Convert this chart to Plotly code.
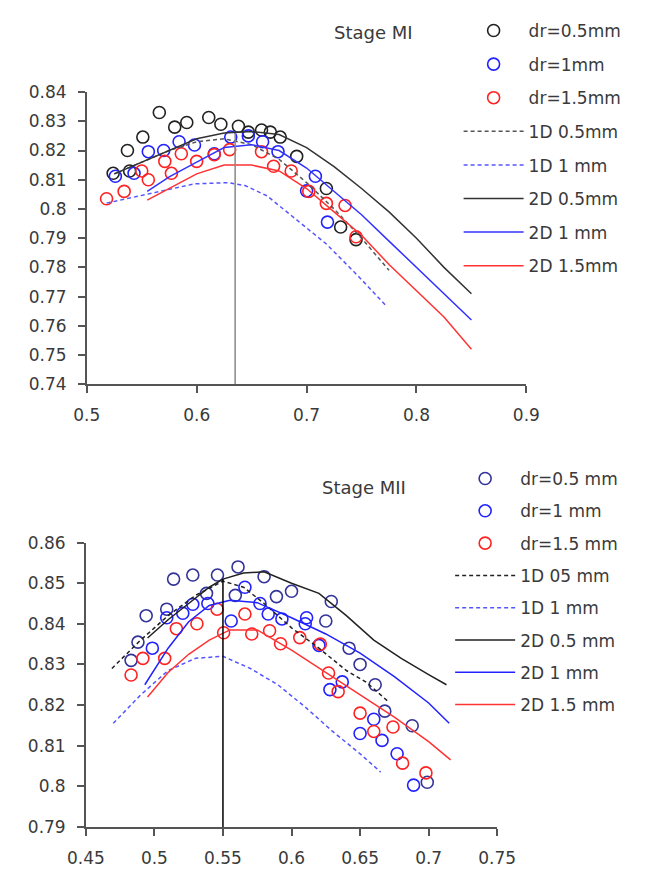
import plotly.graph_objects as go

# ---------------- Top chart (Stage MI) data ----------------
mi_dr05_x = [0.524, 0.539, 0.537, 0.551, 0.566, 0.580, 0.591, 0.611, 0.622, 0.638, 0.647, 0.659,
             0.667, 0.676, 0.691, 0.718, 0.731, 0.745]
mi_dr05_y = [0.8122, 0.813, 0.820, 0.8246, 0.833, 0.828, 0.8296, 0.8313, 0.829, 0.8283, 0.8263, 0.827,
             0.8263, 0.8246, 0.818, 0.807, 0.7938, 0.7895]
mi_dr1_x = [0.526, 0.543, 0.556, 0.570, 0.584, 0.598, 0.616, 0.631, 0.647, 0.660, 0.674, 0.708, 0.700, 0.719]
mi_dr1_y = [0.8112, 0.8122, 0.8196, 0.820, 0.823, 0.8219, 0.8189, 0.8246, 0.825, 0.823, 0.8196, 0.8112, 0.8062, 0.7955]
mi_dr15_x = [0.518, 0.534, 0.550, 0.556, 0.571, 0.577, 0.586, 0.600, 0.616, 0.630, 0.659, 0.670,
             0.686, 0.702, 0.718, 0.735, 0.745]
mi_dr15_y = [0.8035, 0.806, 0.813, 0.810, 0.8163, 0.8122, 0.8189, 0.8163, 0.8186, 0.8203, 0.8196, 0.8146,
             0.813, 0.806, 0.8019, 0.8012, 0.7905]

mi_1d05_x = [0.525, 0.55, 0.575, 0.6, 0.625, 0.65, 0.675, 0.7, 0.725, 0.75, 0.775]
mi_1d05_y = [0.812, 0.816, 0.820, 0.823, 0.824, 0.822, 0.817, 0.809, 0.800, 0.790, 0.779]
mi_1d1_x = [0.518, 0.558, 0.598, 0.629, 0.644, 0.664, 0.689, 0.718, 0.747, 0.772]
mi_1d1_y = [0.802, 0.8052, 0.8086, 0.809, 0.808, 0.8045, 0.797, 0.788, 0.777, 0.767]
mi_2d05_x = [0.525, 0.55, 0.575, 0.6, 0.625, 0.65, 0.675, 0.7, 0.725, 0.75, 0.775, 0.8, 0.825, 0.85]
mi_2d05_y = [0.812, 0.816, 0.820, 0.824, 0.826, 0.8265, 0.8255, 0.821, 0.8145, 0.807, 0.799, 0.790, 0.780, 0.771]
mi_2d1_x = [0.555, 0.575, 0.6, 0.625, 0.65, 0.675, 0.7, 0.725, 0.75, 0.775, 0.8, 0.825, 0.85]
mi_2d1_y = [0.806, 0.811, 0.816, 0.821, 0.822, 0.820, 0.814, 0.806, 0.798, 0.789, 0.780, 0.771, 0.762]
mi_2d15_x = [0.555, 0.575, 0.6, 0.625, 0.65, 0.675, 0.7, 0.725, 0.75, 0.775, 0.8, 0.825, 0.85]
mi_2d15_y = [0.803, 0.807, 0.812, 0.815, 0.815, 0.813, 0.807, 0.799, 0.791, 0.781, 0.772, 0.763, 0.752]
mi_vline_x = [0.635, 0.635]
mi_vline_y = [0.74, 0.826]

# ---------------- Bottom chart (Stage MII) data ----------------
mii_dr05_x = [0.483, 0.488, 0.494, 0.509, 0.514, 0.528, 0.538, 0.546, 0.561, 0.559, 0.580, 0.589, 0.600,
              0.625, 0.629, 0.642, 0.650, 0.661, 0.668, 0.688, 0.699]
mii_dr05_y = [0.831, 0.8355, 0.842, 0.8436, 0.851, 0.852, 0.8475, 0.852, 0.854, 0.847, 0.8516, 0.8467, 0.848,
              0.8407, 0.8455, 0.834, 0.830, 0.825, 0.8185, 0.8149, 0.801]
mii_dr1_x = [0.4985, 0.509, 0.5207, 0.528, 0.539, 0.556, 0.566, 0.577, 0.583, 0.593, 0.610, 0.611,
             0.620, 0.628, 0.637, 0.650, 0.660, 0.666, 0.677, 0.689]
mii_dr1_y = [0.834, 0.8415, 0.8426, 0.8448, 0.845, 0.8407, 0.849, 0.845, 0.8424, 0.8412, 0.840, 0.8415,
             0.8347, 0.8238, 0.8257, 0.813, 0.8165, 0.8113, 0.808, 0.8003]
mii_dr15_x = [0.483, 0.4916, 0.5075, 0.516, 0.531, 0.5457, 0.5505, 0.566, 0.571, 0.584, 0.592, 0.606,
              0.621, 0.627, 0.634, 0.650, 0.660, 0.674, 0.681, 0.698]
mii_dr15_y = [0.8274, 0.8315, 0.8315, 0.8388, 0.840, 0.8436, 0.8378, 0.8424, 0.8375, 0.8383, 0.8351, 0.8366,
              0.835, 0.8279, 0.8233, 0.818, 0.8135, 0.8146, 0.8057, 0.8033]

mii_1d05_x = [0.469, 0.49, 0.51, 0.53, 0.55, 0.565, 0.58, 0.6, 0.62, 0.64, 0.655, 0.67]
mii_1d05_y = [0.829, 0.836, 0.842, 0.847, 0.8505, 0.849, 0.845, 0.839, 0.834, 0.8285, 0.8255, 0.821]
mii_1d1_x = [0.47, 0.49, 0.51, 0.53, 0.55, 0.57, 0.59, 0.61, 0.63, 0.65, 0.665]
mii_1d1_y = [0.8155, 0.8225, 0.8285, 0.8315, 0.832, 0.829, 0.825, 0.8195, 0.8135, 0.808, 0.8035]
mii_2d05_x = [0.495, 0.51, 0.525, 0.54, 0.55, 0.565, 0.58, 0.6, 0.62, 0.64, 0.66, 0.68, 0.7, 0.713]
mii_2d05_y = [0.8365, 0.841, 0.845, 0.849, 0.851, 0.8525, 0.8528, 0.850, 0.8475, 0.842, 0.836, 0.8315, 0.8275, 0.825]
mii_2d1_x = [0.493, 0.51, 0.525, 0.54, 0.555, 0.575, 0.6, 0.625, 0.65, 0.675, 0.7, 0.715]
mii_2d1_y = [0.825, 0.834, 0.8405, 0.8445, 0.8458, 0.8452, 0.8415, 0.8375, 0.8328, 0.827, 0.8205, 0.8155]
mii_2d15_x = [0.495, 0.51, 0.525, 0.54, 0.555, 0.575, 0.6, 0.625, 0.65, 0.675, 0.7, 0.716]
mii_2d15_y = [0.822, 0.828, 0.8325, 0.836, 0.8385, 0.8385, 0.8335, 0.828, 0.8225, 0.817, 0.811, 0.8065]
mii_vline_x = [0.55, 0.55]
mii_vline_y = [0.79, 0.851]

FONT = "DejaVu Sans"
W, H = 648, 876


def px_x(p):
    return p / W


def px_y(p):
    return 1 - p / H


fig = go.Figure()


def add_marker(x, y, name, color, xa, ya, legend, group):
    fig.add_trace(go.Scatter(x=x, y=y, mode="markers", name=name,
                             marker=dict(symbol="circle-open", size=12, color=color,
                                         line=dict(width=1.6, color=color)),
                             xaxis=xa, yaxis=ya, legend=legend, legendgroup=group))


def add_line(x, y, name, color, dash, xa, ya, legend, group, width=1.5):
    fig.add_trace(go.Scatter(x=x, y=y, mode="lines", name=name,
                             line=dict(color=color, width=width, dash=dash),
                             xaxis=xa, yaxis=ya, legend=legend, legendgroup=group))


DASH = "4px,3px"
add_marker(mi_dr05_x, mi_dr05_y, "dr=0.5mm", "#222222", "x", "y", "legend", "a1")
add_marker(mi_dr1_x, mi_dr1_y, "dr=1mm", "#2222FF", "x", "y", "legend", "a2")
add_marker(mi_dr15_x, mi_dr15_y, "dr=1.5mm", "#FF2222", "x", "y", "legend", "a3")
add_line(mi_1d05_x, mi_1d05_y, "1D 0.5mm", "#555555", DASH, "x", "y", "legend", "a4")
add_line(mi_1d1_x, mi_1d1_y, "1D 1 mm", "#5555FF", DASH, "x", "y", "legend", "a5")
add_line(mi_2d05_x, mi_2d05_y, "2D 0.5mm", "#333333", "solid", "x", "y", "legend", "a6")
add_line(mi_2d1_x, mi_2d1_y, "2D 1 mm", "#3333FF", "solid", "x", "y", "legend", "a7")
add_line(mi_2d15_x, mi_2d15_y, "2D 1.5mm", "#FF3333", "solid", "x", "y", "legend", "a8")
fig.add_trace(go.Scatter(x=mi_vline_x, y=mi_vline_y, mode="lines", line=dict(color="#888888", width=1.5),
                         showlegend=False, xaxis="x", yaxis="y", hoverinfo="skip"))
add_marker(mii_dr05_x, mii_dr05_y, "dr=0.5 mm", "#333399", "x2", "y2", "legend2", "b1")
add_marker(mii_dr1_x, mii_dr1_y, "dr=1 mm", "#2222FF", "x2", "y2", "legend2", "b2")
add_marker(mii_dr15_x, mii_dr15_y, "dr=1.5 mm", "#FF2222", "x2", "y2", "legend2", "b3")
add_line(mii_1d05_x, mii_1d05_y, "1D 05 mm", "#222222", DASH, "x2", "y2", "legend2", "b4")
add_line(mii_1d1_x, mii_1d1_y, "1D 1 mm", "#5555FF", DASH, "x2", "y2", "legend2", "b5")
add_line(mii_2d05_x, mii_2d05_y, "2D 0.5 mm", "#222222", "solid", "x2", "y2", "legend2", "b6")
add_line(mii_2d1_x, mii_2d1_y, "2D 1 mm", "#2222FF", "solid", "x2", "y2", "legend2", "b7")
add_line(mii_2d15_x, mii_2d15_y, "2D 1.5 mm", "#FF3333", "solid", "x2", "y2", "legend2", "b8")
fig.add_trace(go.Scatter(x=mii_vline_x, y=mii_vline_y, mode="lines", line=dict(color="#000000", width=1.5),
                         showlegend=False, xaxis="x2", yaxis="y2", hoverinfo="skip"))

axis_common = dict(showgrid=False, zeroline=False, showline=True, linecolor="#555555", linewidth=1.5,
                   ticks="outside", ticklen=7, tickcolor="#555555", tickwidth=1.5, ticklabelstandoff=8,
                   tickfont=dict(family=FONT, size=17, color="#3a3a3a"))

legend_common = dict(xanchor="left", yanchor="top", bgcolor="rgba(255,255,255,0)",
                     traceorder="grouped", itemwidth=60,
                     font=dict(family=FONT, size=17, color="#3a3a3a"))

fig.update_layout(
    width=W, height=H, margin=dict(l=0, r=0, t=0, b=0),
    paper_bgcolor="white", plot_bgcolor="rgba(0,0,0,0)",
    font=dict(family=FONT, size=17, color="#3a3a3a"),
    xaxis=dict(domain=[px_x(72), px_x(539)], range=[0.5, 0.9], dtick=0.1, anchor="y", **axis_common),
    yaxis=dict(domain=[px_y(383), px_y(84)], range=[0.74, 0.84], dtick=0.01, anchor="x", **axis_common),
    xaxis2=dict(domain=[px_x(71), px_x(508)], range=[0.45, 0.75], dtick=0.05, anchor="y2", **axis_common),
    yaxis2=dict(domain=[px_y(836), px_y(545)], range=[0.79, 0.86], dtick=0.01, anchor="x2", **axis_common),
    legend=dict(x=px_x(467), y=px_y(3), tracegroupgap=8.5, **legend_common),
    legend2=dict(x=px_x(458), y=px_y(461.5), tracegroupgap=7.2, **legend_common),
    annotations=[
        dict(text="Stage MI", x=px_x(377), y=px_y(23), xref="paper", yref="paper", showarrow=False,
             xanchor="center", yanchor="middle", font=dict(family=FONT, size=18, color="#3a3a3a")),
        dict(text="Stage MII", x=px_x(366), y=px_y(489), xref="paper", yref="paper", showarrow=False,
             xanchor="center", yanchor="middle", font=dict(family=FONT, size=18, color="#3a3a3a")),
    ],
)

fig.write_html("out.html", config={"displayModeBar": False},
               post_script="document.body.style.margin='0';document.body.style.overflow='hidden';")
